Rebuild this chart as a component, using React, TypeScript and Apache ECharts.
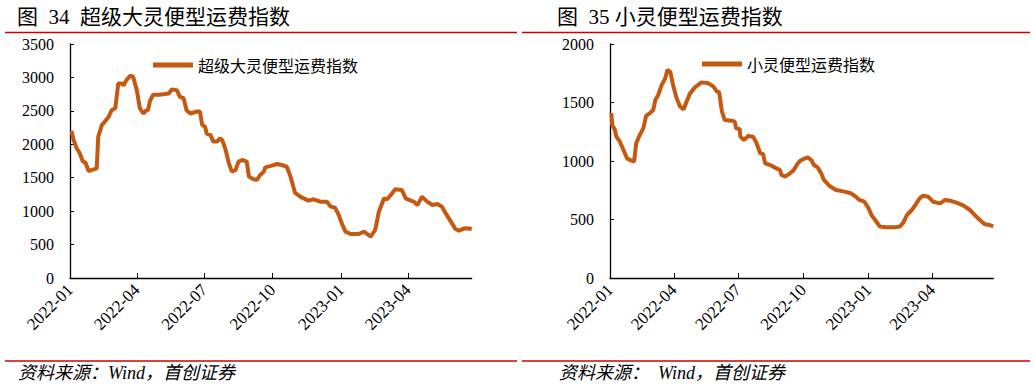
import React, { useEffect, useRef } from "react";
import * as echarts from "echarts";

const tickLabels = ["2022-01", "2022-04", "2022-07", "2022-10", "2023-01", "2023-04"];
const axisStart = "2022-01-01";
const axisEnd = "2023-06-26";

const supraName = "超级大灵便型运费指数";
const supraDates = [
  "2022-01-03", "2022-01-06", "2022-01-10", "2022-01-14", "2022-01-18", "2022-01-22", "2022-01-26",
  "2022-02-06", "2022-02-08", "2022-02-13", "2022-02-17", "2022-02-22", "2022-02-26", "2022-03-03",
  "2022-03-07", "2022-03-12", "2022-03-14", "2022-03-18", "2022-03-23", "2022-03-27", "2022-04-01",
  "2022-04-05", "2022-04-10", "2022-04-14", "2022-04-16", "2022-04-19", "2022-04-23", "2022-05-02",
  "2022-05-07", "2022-05-14", "2022-05-18", "2022-05-25", "2022-05-29", "2022-06-03", "2022-06-07",
  "2022-06-12", "2022-06-21", "2022-06-25", "2022-06-28", "2022-07-02", "2022-07-04", "2022-07-09",
  "2022-07-13", "2022-07-18", "2022-07-22", "2022-07-25", "2022-07-29", "2022-08-03", "2022-08-07",
  "2022-08-12", "2022-08-16", "2022-08-21", "2022-08-27", "2022-08-30", "2022-09-05", "2022-09-10",
  "2022-09-14", "2022-09-19", "2022-09-21", "2022-09-30", "2022-10-07", "2022-10-13", "2022-10-20",
  "2022-10-25", "2022-10-31", "2022-11-07", "2022-11-18", "2022-11-25", "2022-12-04", "2022-12-13",
  "2022-12-18", "2022-12-24", "2022-12-29", "2023-01-02", "2023-01-07", "2023-01-14", "2023-01-25",
  "2023-02-01", "2023-02-05", "2023-02-10", "2023-02-16", "2023-02-21", "2023-02-28", "2023-03-04",
  "2023-03-09", "2023-03-15", "2023-03-24", "2023-03-29", "2023-04-05", "2023-04-09", "2023-04-14",
  "2023-04-20", "2023-04-27", "2023-05-04", "2023-05-11", "2023-05-17", "2023-05-22", "2023-05-29",
  "2023-06-04", "2023-06-09", "2023-06-16", "2023-06-22", "2023-06-26",
];
const supraValues = [
  2200, 2060, 1940, 1870, 1750, 1720, 1600,
  1640, 2110, 2290, 2340, 2410, 2510, 2540,
  2910, 2910, 2880, 2960, 3025, 3010, 2810,
  2540, 2460, 2510, 2510, 2660, 2740, 2740,
  2750, 2760, 2820, 2810, 2710, 2690, 2510,
  2460, 2490, 2490, 2290, 2260, 2160, 2140,
  2040, 2040, 2090, 2060, 1940, 1715, 1590,
  1615, 1740, 1765, 1740, 1516, 1476, 1470,
  1541, 1590, 1655, 1680, 1705, 1690, 1665,
  1516, 1276, 1217, 1157, 1177, 1142, 1142,
  1067, 1052, 942, 818, 693, 658, 658,
  693, 660, 618, 718, 992, 1192, 1177,
  1241, 1326, 1316, 1192, 1157, 1142, 1092,
  1217, 1142, 1092, 1107, 1067, 967, 843,
  733, 708, 743, 740, 733,
];

const handyName = "小灵便型运费指数";
const handyDates = [
  "2022-01-03", "2022-01-04", "2022-01-08", "2022-01-10", "2022-01-15", "2022-01-20", "2022-01-25",
  "2022-01-29", "2022-02-04", "2022-02-07", "2022-02-12", "2022-02-17", "2022-02-21", "2022-02-26",
  "2022-03-03", "2022-03-06", "2022-03-10", "2022-03-15", "2022-03-20", "2022-03-23", "2022-03-27",
  "2022-03-31", "2022-04-05", "2022-04-10", "2022-04-15", "2022-04-19", "2022-04-24", "2022-05-01",
  "2022-05-10", "2022-05-20", "2022-05-27", "2022-06-01", "2022-06-04", "2022-06-08", "2022-06-12",
  "2022-06-22", "2022-06-26", "2022-06-28", "2022-07-03", "2022-07-04", "2022-07-09", "2022-07-15",
  "2022-07-22", "2022-07-27", "2022-08-01", "2022-08-05", "2022-08-08", "2022-08-15", "2022-08-24",
  "2022-08-29", "2022-08-31", "2022-09-05", "2022-09-12", "2022-09-17", "2022-09-22", "2022-09-26",
  "2022-09-30", "2022-10-07", "2022-10-12", "2022-10-16", "2022-10-21", "2022-10-26", "2022-10-30",
  "2022-11-07", "2022-11-16", "2022-11-28", "2022-12-07", "2022-12-14", "2022-12-19", "2022-12-26",
  "2023-01-01", "2023-01-05", "2023-01-12", "2023-01-17", "2023-01-26", "2023-02-07", "2023-02-14",
  "2023-02-19", "2023-02-24", "2023-03-03", "2023-03-08", "2023-03-14", "2023-03-19", "2023-03-26",
  "2023-04-02", "2023-04-12", "2023-04-19", "2023-04-26", "2023-05-05", "2023-05-15", "2023-05-24",
  "2023-05-31", "2023-06-07", "2023-06-14", "2023-06-21", "2023-06-26",
];
const handyValues = [
  1410, 1310, 1265, 1208, 1165, 1094, 1023,
  1009, 994, 1151, 1222, 1279, 1385, 1407,
  1436, 1521, 1564, 1650, 1707, 1778, 1764,
  1650, 1536, 1464, 1442, 1507, 1578, 1630,
  1672, 1664, 1635, 1593, 1590, 1422, 1350,
  1345, 1336, 1279, 1273, 1208, 1179, 1214,
  1208, 1151, 1066, 1060, 980, 966, 937,
  923, 880, 866, 895, 920, 970, 1000,
  1014, 1031, 1009, 966, 946, 895, 838,
  786, 752, 738, 724, 695, 667, 652,
  595, 538, 481, 439, 433, 433, 439,
  473, 538, 581, 624, 681, 704, 695,
  652, 638, 667, 661, 644, 618, 581,
  538, 496, 459, 453, 440,
];

const LINE_COLOR = "#C65911";
const RED = "#CC0000";
const SERIF = "'Liberation Serif', 'Noto Sans CJK SC'";

function dayTime(s: string): number {
  const [y, m, d] = s.split("-");
  return Date.UTC(+y, +m - 1, d ? +d : 1);
}
function fmtMonth(v: number): string {
  const d = new Date(v);
  const m = d.getUTCMonth() + 1;
  return d.getUTCFullYear() + "-" + (m < 10 ? "0" + m : "" + m);
}

export default function App() {
  const ref = useRef<HTMLDivElement>(null);
  useEffect(() => {
    document.body.style.margin = "0";
    const chart = echarts.init(ref.current!, undefined, { renderer: "svg" });
    const ticks = tickLabels.map(dayTime);
    const xAxisBase = (gridIndex: number) => ({
      type: "value",
      gridIndex,
      min: dayTime(axisStart),
      max: dayTime(axisEnd),
      axisLine: { lineStyle: { color: "#000", width: 1.3 } },
      axisTick: { show: true, inside: true, length: 5, customValues: ticks, lineStyle: { color: "#000" } },
      axisLabel: {
        customValues: ticks,
        formatter: (v: number) => fmtMonth(v),
        rotate: 45,
        color: "#000",
        fontFamily: SERIF,
        fontSize: 17,
        margin: 9,
      },
      splitLine: { show: false },
    });
    const yAxisBase = (gridIndex: number, max: number) => ({
      type: "value",
      gridIndex,
      min: 0,
      max,
      interval: 500,
      axisLine: { show: true, lineStyle: { color: "#000", width: 1.3 } },
      axisTick: { show: true, inside: true, length: 4, lineStyle: { color: "#000" } },
      axisLabel: {
        color: "#000",
        fontFamily: SERIF,
        fontSize: 16,
        margin: 16,
        formatter: (v: number) => String(v),
      },
      splitLine: { show: false },
    });
    const toPairs = (dates: string[], vals: number[]) => dates.map((d, i) => [dayTime(d), vals[i]]);
    const legendText = { color: "#000", fontSize: 16, fontFamily: "'Noto Sans CJK SC'" };
    chart.setOption({
      animation: false,
      backgroundColor: "#fff",
      grid: [
        { left: 70, top: 44, width: 401.7, height: 234 },
        { left: 610, top: 44, width: 383.3, height: 234 },
      ],
      xAxis: [xAxisBase(0), xAxisBase(1)],
      yAxis: [yAxisBase(0, 3500), yAxisBase(1, 2000)],
      legend: [
        {
          data: [supraName],
          left: 148,
          top: 52,
          icon: "rect",
          itemWidth: 40,
          itemHeight: 5,
          itemGap: 6,
          textStyle: legendText,
        },
        {
          data: [handyName],
          left: 697,
          top: 51,
          icon: "rect",
          itemWidth: 40,
          itemHeight: 5,
          itemGap: 6,
          textStyle: legendText,
        },
      ],
      series: [
        {
          name: supraName,
          type: "line",
          xAxisIndex: 0,
          yAxisIndex: 0,
          data: toPairs(supraDates, supraValues),
          showSymbol: false,
          symbol: "none",
          lineStyle: { color: LINE_COLOR, width: 4 },
          itemStyle: { color: LINE_COLOR },
        },
        {
          name: handyName,
          type: "line",
          xAxisIndex: 1,
          yAxisIndex: 1,
          data: toPairs(handyDates, handyValues),
          showSymbol: false,
          symbol: "none",
          lineStyle: { color: LINE_COLOR, width: 4 },
          itemStyle: { color: LINE_COLOR },
        },
      ],
      graphic: [
        {
          type: "text",
          left: 17,
          top: 6,
          style: { text: "图  34  超级大灵便型运费指数", fill: "#000", font: `21px ${SERIF}` },
        },
        {
          type: "text",
          left: 557,
          top: 6,
          style: { text: "图  35 小灵便型运费指数", fill: "#000", font: `21px ${SERIF}` },
        },
        { type: "line", shape: { x1: 5, y1: 32.5, x2: 517, y2: 32.5 }, style: { stroke: RED, lineWidth: 1.5 } },
        { type: "line", shape: { x1: 522, y1: 32.5, x2: 1030, y2: 32.5 }, style: { stroke: RED, lineWidth: 1.5 } },
        { type: "line", shape: { x1: 5, y1: 361, x2: 517, y2: 361 }, style: { stroke: RED, lineWidth: 1.5 } },
        { type: "line", shape: { x1: 522, y1: 361, x2: 1030, y2: 361 }, style: { stroke: RED, lineWidth: 1.5 } },
        {
          type: "text",
          left: 18,
          top: 364,
          style: { text: "资料来源：Wind，首创证券", fill: "#000", font: `italic 18px ${SERIF}` },
        },
        {
          type: "text",
          left: 559,
          top: 364,
          style: { text: "资料来源：  Wind，首创证券", fill: "#000", font: `italic 18px ${SERIF}` },
        },
      ],
    });
    return () => chart.dispose();
  }, []);
  return <div ref={ref} style={{ width: 1036, height: 390 }} />;
}
